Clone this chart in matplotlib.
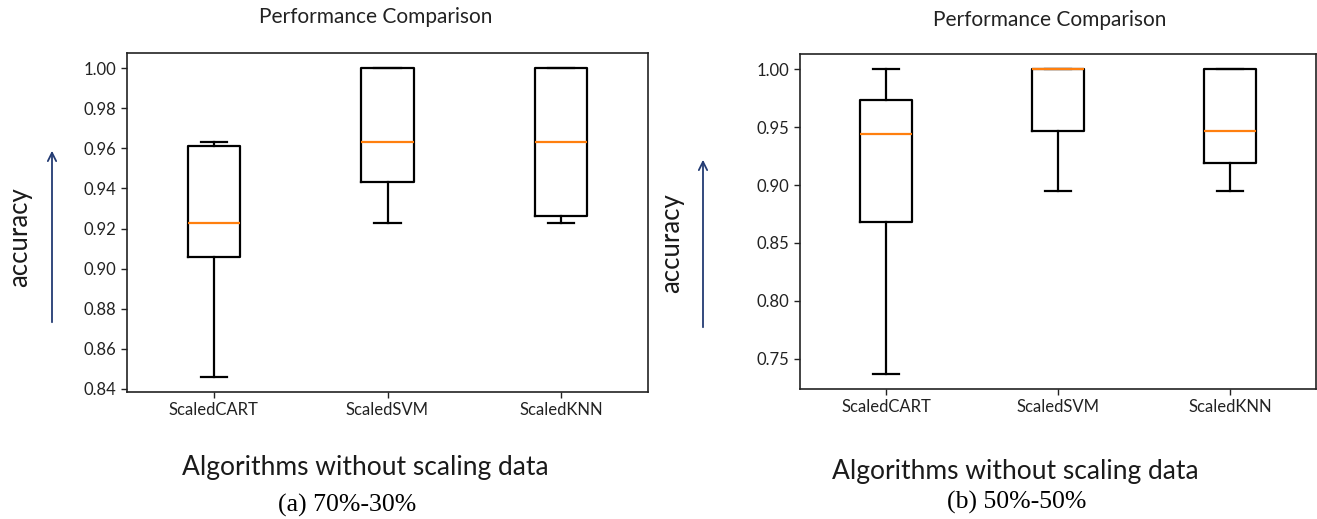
import matplotlib
matplotlib.use("Agg")
import matplotlib.pyplot as plt

# ── Data ────────────────────────────────────────────────────────────────────
ALGOS = ["ScaledCART", "ScaledSVM", "ScaledKNN"]

# 70%-30% split
a_whislo = [0.846, 0.923, 0.923]
a_q1     = [0.906, 0.943, 0.926]
a_med    = [0.923, 0.963, 0.963]
a_q3     = [0.961, 1.000, 1.000]
a_whishi = [0.963, 1.000, 1.000]

# 50%-50% split
b_whislo = [0.737, 0.895, 0.895]
b_q1     = [0.868, 0.947, 0.919]
b_med    = [0.944, 1.000, 0.947]
b_q3     = [0.973, 1.000, 1.000]
b_whishi = [1.000, 1.000, 1.000]

TITLE   = "Performance Comparison"
XLABEL  = "Algorithms without scaling data"
YLABEL  = "accuracy"
CAPTION = ["(a) 70%-30%", "(b) 50%-50%"]

SANS  = ["Lato", "DejaVu Sans"]
SERIF = ["Liberation Serif", "DejaVu Serif"]
ARROW = "#233b73"

W, H = 1317, 519
fig = plt.figure(figsize=(W / 100, H / 100), dpi=100)


def frac_axes(x0, y0, x1, y1):
    """axes from pixel box (top-left origin)"""
    return fig.add_axes([x0 / W, 1 - y1 / H, (x1 - x0) / W, (y1 - y0) / H])


def stats(whislo, q1, med, q3, whishi):
    return [dict(whislo=lo, q1=a, med=m, q3=b, whishi=hi, fliers=[], label=lab)
            for lo, a, m, b, hi, lab in zip(whislo, q1, med, q3, whishi, ALGOS)]


panels = [
    (stats(a_whislo, a_q1, a_med, a_q3, a_whishi), (127, 53, 648, 392),
     376, 17, 365, 468, 347, 505, 20, 237, 52, 148, 325),
    (stats(b_whislo, b_q1, b_med, b_q3, b_whishi), (800, 54, 1316, 389),
     1050, 20, 1015, 472, 1017, 502, 672, 243, 703, 157, 330),
]

for (st, box, tx, ty, lx, ly, cx, cy, yx, yy, ax_x, ar_top, ar_bot), cap in zip(panels, CAPTION):
    ax = frac_axes(*box)
    ax.bxp(st, widths=0.3,
           boxprops=dict(color="black", linewidth=1.6),
           whiskerprops=dict(color="black", linewidth=1.6),
           capprops=dict(color="black", linewidth=1.6),
           medianprops=dict(color="#ff7f0e", linewidth=1.6))
    ax.set_xlim(0.5, 3.5)
    for s in ax.spines.values():
        s.set_linewidth(1.2)
        s.set_color("#222222")
    ax.tick_params(labelsize=12, length=4, width=1.0, colors="#222222")
    for lab in ax.get_xticklabels() + ax.get_yticklabels():
        lab.set_family(SANS)
    if box[0] > 700:
        ax.set_yticks([0.75, 0.80, 0.85, 0.90, 0.95, 1.00])
    ax.yaxis.set_major_formatter(matplotlib.ticker.FormatStrFormatter("%.2f"))

    fig.text(tx / W, 1 - ty / H, TITLE, ha="center", va="center",
             fontsize=15, family=SANS, color="#222222")
    fig.text(lx / W, 1 - ly / H, XLABEL, ha="center", va="center",
             fontsize=19, family=SANS, color="#1a1a1a")
    fig.text(cx / W, 1 - cy / H, cap, ha="center", va="center",
             fontsize=18.5, family=SERIF, color="black")
    fig.text(yx / W, 1 - yy / H, YLABEL, ha="center", va="center",
             rotation=90, fontsize=18.5, family=SANS, color="#1a1a1a")
    fig.add_artist(matplotlib.patches.FancyArrowPatch(
        (ax_x / W, 1 - ar_bot / H), (ax_x / W, 1 - ar_top / H),
        transform=fig.transFigure, arrowstyle="->,head_width=3,head_length=6",
        color=ARROW, linewidth=1.3, mutation_scale=1))

fig.savefig("out.png", dpi=100)
